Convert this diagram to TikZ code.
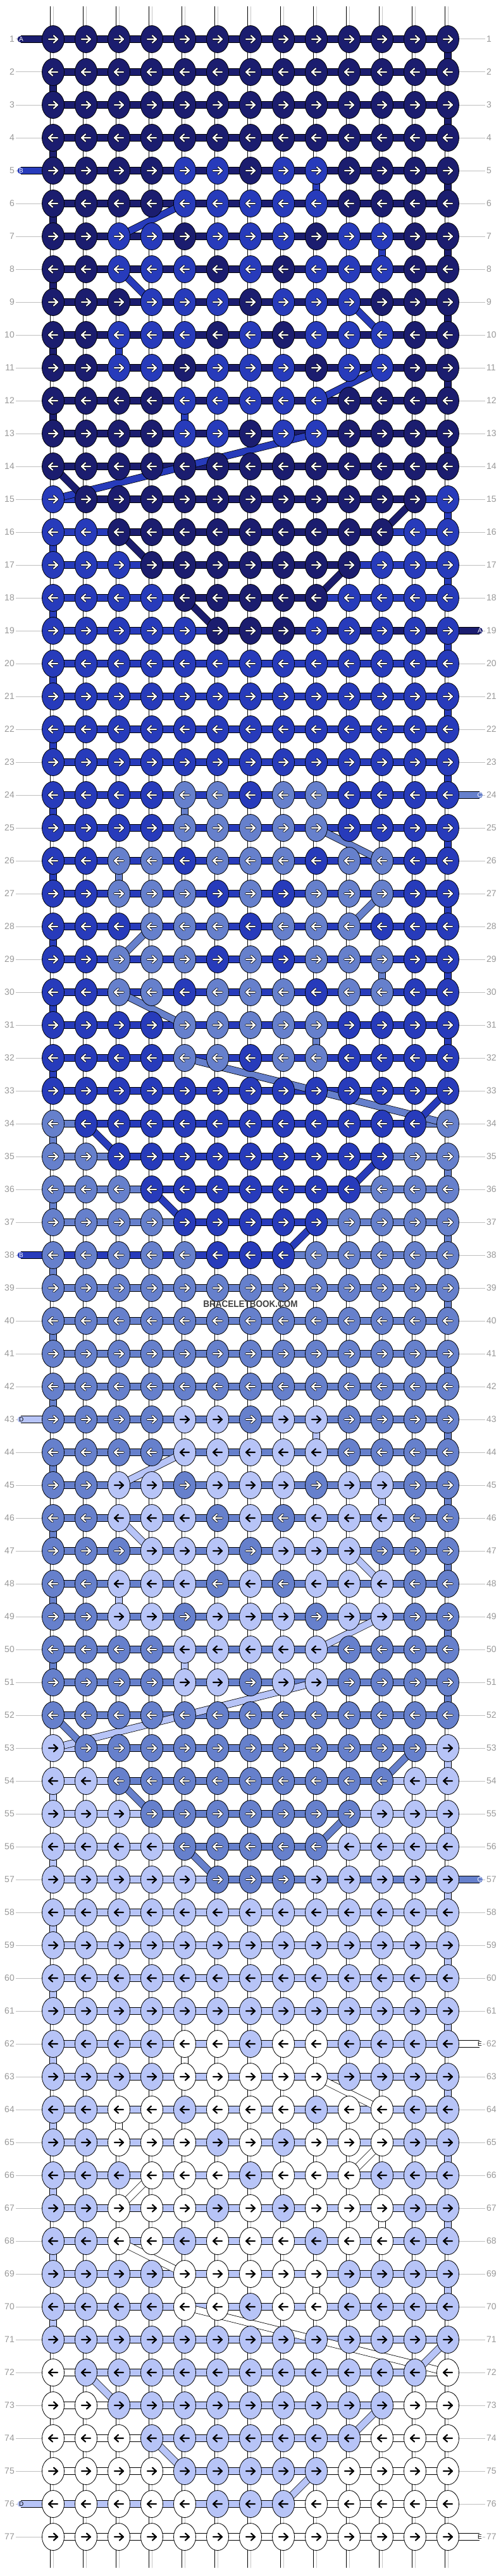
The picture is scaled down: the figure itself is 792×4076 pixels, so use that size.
\documentclass[tikz,border=0pt]{standalone}
\usepackage{fontspec}
\setmainfont{Liberation Sans}
\usepackage{graphicx}
\usetikzlibrary{shapes.geometric, backgrounds}

% thread colours
\definecolor{cN}{HTML}{1B1D6F}
\definecolor{cM}{HTML}{273BBB}
\definecolor{cL}{HTML}{6680CC}
\definecolor{cP}{HTML}{B7C4F7}
\definecolor{cW}{HTML}{FFFFFF}
% arrow colour (a) and arrow outline (o) on each thread colour
\colorlet{aN}{white}\colorlet{aM}{white}\colorlet{aL}{white}\colorlet{aP}{black}\colorlet{aW}{black}
\colorlet{oN}{black}\colorlet{oM}{black}\colorlet{oL}{black}\colorlet{oP}{cP}\colorlet{oW}{white}

\begin{document}
\begin{tikzpicture}[x=1pt, y=-1pt,
    knot/.style={ellipse, draw, line width=0.8pt, minimum width=35pt, minimum height=43pt, inner sep=0pt, fill=c#1},
    band/.style={preaction={draw=black, line width=11.5pt}, draw=#1, line width=10pt},
    conN/.style={band=cN}, conM/.style={band=cM}, conL/.style={band=cL}, conP/.style={band=cP}, conW/.style={band=white},
    strand/.style={preaction={draw=black, line width=10.5pt}, draw=white, line width=9pt, postaction={draw=black!22, line width=0.6pt}},
    rowlab/.style={text=black!40, font=\fontsize{14}{14}\selectfont, inner xsep=2pt, inner ysep=0pt},
    rowline/.style={draw=black!25, line width=1pt},
    endlab/.style={font=\fontsize{10}{10}\selectfont, inner sep=0pt}]
    \useasboundingbox (0,0) rectangle (792,4076);
    \begin{scope}[on background layer]
        \fill[white] (0,0) rectangle (792,4076);
    \end{scope}

    % Knots, row by row: knot colours / colours of the links between them
    \foreach \r/\kc/\hc in {
        1/{N,N,N,N,N,N,N,N,N,N,N,N,N}/{N,N,N,N,N,N,N,N,N,N,N,N},
        2/{N,N,N,N,N,N,N,N,N,N,N,N,N}/{N,N,N,N,N,N,N,N,N,N,N,N},
        3/{N,N,N,N,N,N,N,N,N,N,N,N,N}/{N,N,N,N,N,N,N,N,N,N,N,N},
        4/{N,N,N,N,N,N,N,N,N,N,N,N,N}/{N,N,N,N,N,N,N,N,N,N,N,N},
        5/{N,N,N,N,M,M,N,M,M,N,N,N,N}/{N,N,N,N,N,N,N,N,N,N,N,N},
        6/{N,N,N,N,M,M,M,M,M,N,N,N,N}/{N,N,N,N,N,N,N,N,N,N,N,N},
        7/{N,N,M,M,N,M,M,M,N,M,M,N,N}/{N,N,N,N,N,N,N,N,N,N,N,N},
        8/{N,N,M,M,M,N,M,N,M,M,M,N,N}/{N,N,N,N,N,N,N,N,N,N,N,N},
        9/{N,N,N,M,M,M,N,M,M,M,N,N,N}/{N,N,N,N,N,N,N,N,N,N,N,N},
        10/{N,N,M,M,M,N,M,N,M,M,M,N,N}/{N,N,N,N,N,N,N,N,N,N,N,N},
        11/{N,N,M,M,N,M,M,M,N,M,M,N,N}/{N,N,N,N,N,N,N,N,N,N,N,N},
        12/{N,N,N,N,M,M,M,M,M,N,N,N,N}/{N,N,N,N,N,N,N,N,N,N,N,N},
        13/{N,N,N,N,M,M,N,M,M,N,N,N,N}/{N,N,N,N,N,N,N,N,N,N,N,N},
        14/{N,N,N,N,N,N,N,N,N,N,N,N,N}/{N,N,N,N,N,N,N,N,N,N,N,N},
        15/{M,N,N,N,N,N,N,N,N,N,N,N,M}/{M,N,N,N,N,N,N,N,N,N,N,M},
        16/{M,M,N,N,N,N,N,N,N,N,N,M,M}/{M,M,N,N,N,N,N,N,N,N,M,M},
        17/{M,M,M,N,N,N,N,N,N,N,M,M,M}/{M,M,M,N,N,N,N,N,N,M,M,M},
        18/{M,M,M,M,N,N,N,N,N,M,M,M,M}/{M,M,M,M,N,N,N,N,M,M,M,M},
        19/{M,M,M,M,M,N,N,N,M,M,M,M,M}/{M,M,M,M,M,N,N,N,N,N,N,N},
        20/{M,M,M,M,M,M,M,M,M,M,M,M,M}/{M,M,M,M,M,M,M,M,M,M,M,M},
        21/{M,M,M,M,M,M,M,M,M,M,M,M,M}/{M,M,M,M,M,M,M,M,M,M,M,M},
        22/{M,M,M,M,M,M,M,M,M,M,M,M,M}/{M,M,M,M,M,M,M,M,M,M,M,M},
        23/{M,M,M,M,M,M,M,M,M,M,M,M,M}/{M,M,M,M,M,M,M,M,M,M,M,M},
        24/{M,M,M,M,L,L,M,L,L,M,M,M,M}/{M,M,M,M,M,M,M,M,M,M,M,M},
        25/{M,M,M,M,L,L,L,L,L,M,M,M,M}/{M,M,M,M,M,M,M,M,M,M,M,M},
        26/{M,M,L,L,M,L,L,L,M,L,L,M,M}/{M,M,M,M,M,M,M,M,M,M,M,M},
        27/{M,M,L,L,L,M,L,M,L,L,L,M,M}/{M,M,M,M,M,M,M,M,M,M,M,M},
        28/{M,M,M,L,L,L,M,L,L,L,M,M,M}/{M,M,M,M,M,M,M,M,M,M,M,M},
        29/{M,M,L,L,L,M,L,M,L,L,L,M,M}/{M,M,M,M,M,M,M,M,M,M,M,M},
        30/{M,M,L,L,M,L,L,L,M,L,L,M,M}/{M,M,M,M,M,M,M,M,M,M,M,M},
        31/{M,M,M,M,L,L,L,L,L,M,M,M,M}/{M,M,M,M,M,M,M,M,M,M,M,M},
        32/{M,M,M,M,L,L,M,L,L,M,M,M,M}/{M,M,M,M,M,M,M,M,M,M,M,M},
        33/{M,M,M,M,M,M,M,M,M,M,M,M,M}/{M,M,M,M,M,M,M,M,M,M,M,M},
        34/{L,M,M,M,M,M,M,M,M,M,M,M,L}/{L,M,M,M,M,M,M,M,M,M,M,L},
        35/{L,L,M,M,M,M,M,M,M,M,M,L,L}/{L,L,M,M,M,M,M,M,M,M,L,L},
        36/{L,L,L,M,M,M,M,M,M,M,L,L,L}/{L,L,L,M,M,M,M,M,M,L,L,L},
        37/{L,L,L,L,M,M,M,M,M,L,L,L,L}/{L,L,L,L,M,M,M,M,L,L,L,L},
        38/{L,L,L,L,L,M,M,M,L,L,L,L,L}/{M,M,M,M,M,M,M,L,L,L,L,L},
        39/{L,L,L,L,L,L,L,L,L,L,L,L,L}/{L,L,L,L,L,L,L,L,L,L,L,L},
        40/{L,L,L,L,L,L,L,L,L,L,L,L,L}/{L,L,L,L,L,L,L,L,L,L,L,L},
        41/{L,L,L,L,L,L,L,L,L,L,L,L,L}/{L,L,L,L,L,L,L,L,L,L,L,L},
        42/{L,L,L,L,L,L,L,L,L,L,L,L,L}/{L,L,L,L,L,L,L,L,L,L,L,L},
        43/{L,L,L,L,P,P,L,P,P,L,L,L,L}/{L,L,L,L,L,L,L,L,L,L,L,L},
        44/{L,L,L,L,P,P,P,P,P,L,L,L,L}/{L,L,L,L,L,L,L,L,L,L,L,L},
        45/{L,L,P,P,L,P,P,P,L,P,P,L,L}/{L,L,L,L,L,L,L,L,L,L,L,L},
        46/{L,L,P,P,P,L,P,L,P,P,P,L,L}/{L,L,L,L,L,L,L,L,L,L,L,L},
        47/{L,L,L,P,P,P,L,P,P,P,L,L,L}/{L,L,L,L,L,L,L,L,L,L,L,L},
        48/{L,L,P,P,P,L,P,L,P,P,P,L,L}/{L,L,L,L,L,L,L,L,L,L,L,L},
        49/{L,L,P,P,L,P,P,P,L,P,P,L,L}/{L,L,L,L,L,L,L,L,L,L,L,L},
        50/{L,L,L,L,P,P,P,P,P,L,L,L,L}/{L,L,L,L,L,L,L,L,L,L,L,L},
        51/{L,L,L,L,P,P,L,P,P,L,L,L,L}/{L,L,L,L,L,L,L,L,L,L,L,L},
        52/{L,L,L,L,L,L,L,L,L,L,L,L,L}/{L,L,L,L,L,L,L,L,L,L,L,L},
        53/{P,L,L,L,L,L,L,L,L,L,L,L,P}/{P,L,L,L,L,L,L,L,L,L,L,P},
        54/{P,P,L,L,L,L,L,L,L,L,L,P,P}/{P,P,L,L,L,L,L,L,L,L,P,P},
        55/{P,P,P,L,L,L,L,L,L,L,P,P,P}/{P,P,P,L,L,L,L,L,L,P,P,P},
        56/{P,P,P,P,L,L,L,L,L,P,P,P,P}/{P,P,P,P,L,L,L,L,P,P,P,P},
        57/{P,P,P,P,P,L,L,L,P,P,P,P,P}/{P,P,P,P,P,L,L,L,L,L,L,L},
        58/{P,P,P,P,P,P,P,P,P,P,P,P,P}/{P,P,P,P,P,P,P,P,P,P,P,P},
        59/{P,P,P,P,P,P,P,P,P,P,P,P,P}/{P,P,P,P,P,P,P,P,P,P,P,P},
        60/{P,P,P,P,P,P,P,P,P,P,P,P,P}/{P,P,P,P,P,P,P,P,P,P,P,P},
        61/{P,P,P,P,P,P,P,P,P,P,P,P,P}/{P,P,P,P,P,P,P,P,P,P,P,P},
        62/{P,P,P,P,W,W,P,W,W,P,P,P,P}/{P,P,P,P,P,P,P,P,P,P,P,P},
        63/{P,P,P,P,W,W,W,W,W,P,P,P,P}/{P,P,P,P,P,P,P,P,P,P,P,P},
        64/{P,P,W,W,P,W,W,W,P,W,W,P,P}/{P,P,P,P,P,P,P,P,P,P,P,P},
        65/{P,P,W,W,W,P,W,P,W,W,W,P,P}/{P,P,P,P,P,P,P,P,P,P,P,P},
        66/{P,P,P,W,W,W,P,W,W,W,P,P,P}/{P,P,P,P,P,P,P,P,P,P,P,P},
        67/{P,P,W,W,W,P,W,P,W,W,W,P,P}/{P,P,P,P,P,P,P,P,P,P,P,P},
        68/{P,P,W,W,P,W,W,W,P,W,W,P,P}/{P,P,P,P,P,P,P,P,P,P,P,P},
        69/{P,P,P,P,W,W,W,W,W,P,P,P,P}/{P,P,P,P,P,P,P,P,P,P,P,P},
        70/{P,P,P,P,W,W,P,W,W,P,P,P,P}/{P,P,P,P,P,P,P,P,P,P,P,P},
        71/{P,P,P,P,P,P,P,P,P,P,P,P,P}/{P,P,P,P,P,P,P,P,P,P,P,P},
        72/{W,P,P,P,P,P,P,P,P,P,P,P,W}/{W,P,P,P,P,P,P,P,P,P,P,W},
        73/{W,W,P,P,P,P,P,P,P,P,P,W,W}/{W,W,P,P,P,P,P,P,P,P,W,W},
        74/{W,W,W,P,P,P,P,P,P,P,W,W,W}/{W,W,W,P,P,P,P,P,P,W,W,W},
        75/{W,W,W,W,P,P,P,P,P,W,W,W,W}/{W,W,W,W,P,P,P,P,W,W,W,W},
        76/{W,W,W,W,W,P,P,P,W,W,W,W,W}/{P,P,P,P,P,P,P,W,W,W,W,W},
        77/{W,W,W,W,W,W,W,W,W,W,W,W,W}/{W,W,W,W,W,W,W,W,W,W,W,W}} {
        \ifodd\r\relax \def\dir{1}\else \def\dir{-1}\fi
        \foreach \k [count=\c] in \kc {
            \node[knot=\k] (k-\r-\c) at ({84+52*(\c-1)}, {62+52*(\r-1)}) {};
            \draw[draw=o\k, line width=3.8pt, line cap=round, line join=round, shift={(k-\r-\c.center)}, xscale=\dir]
                (-7,0) -- (7,0) (1,-5.5) -- (7,0) -- (1,5.5);
            \draw[draw=a\k, line width=2.2pt, line cap=round, line join=round, shift={(k-\r-\c.center)}, xscale=\dir]
                (-7,0) -- (7,0) (1,-5.5) -- (7,0) -- (1,5.5);
        }
        \node[rowlab, anchor=east] (ll-\r) at (25, {62+52*(\r-1)}) {\r};
        \node[rowlab, anchor=west] (rl-\r) at (767, {62+52*(\r-1)}) {\r};
        \begin{scope}[on background layer]
            \draw[rowline] (ll-\r.east) -- (k-\r-1.west);
            \draw[rowline] (k-\r-13.east) -- (rl-\r.west);
            \foreach \h [count=\c] in \hc {
                \pgfmathtruncatemacro\cc{\c+1}
                \draw[con\h] (k-\r-\c.center) -- (k-\r-\cc.center);
            }
        \end{scope}
    }

    \begin{scope}[on background layer]
        % Vertical threads
        \foreach \c in {1,...,13} {
            \coordinate (top-\c) at ({84+52*(\c-1)}, 10.5);
            \coordinate (bot-\c) at ({84+52*(\c-1)}, 4063);
            \draw[strand, line cap=round] (top-\c) -- (k-1-\c.center);
            \draw[strand, line cap=round] (k-77-\c.center) -- (bot-\c);
            \foreach \r in {1,...,76} {
                \pgfmathtruncatemacro\s{\r+1}
                \draw[strand] (k-\r-\c.center) -- (k-\s-\c.center);
            }
        }
        % Turns of the row threads at the edges
        \foreach \a/\b/\t in {1/13/N, 15/32/M, 34/51/L, 53/70/P} {
            \foreach \r in {\a,...,\b} {
                \pgfmathtruncatemacro\s{\r+1}
                \ifodd\r\relax \def\e{13}\else \def\e{1}\fi
                \draw[con\t] (k-\r-\e.center) -- (k-\s-\e.center);
            }
        }
        % Links where a vertical thread is coloured
        \foreach \r/\c/\t in {5/9/M, 7/11/M, 10/3/M, 12/5/M, 24/5/L, 26/3/L, 29/11/L, 31/9/L,
                43/9/P, 45/11/P, 48/3/P, 50/5/P, 62/5/W, 64/3/W, 67/11/W, 69/9/W} {
            \pgfmathtruncatemacro\s{\r+1}
            \draw[con\t] (k-\r-\c.center) -- (k-\s-\c.center);
        }
        % Thread ends
        \foreach \r/\t in {1/N, 5/M, 38/M, 43/P, 76/P} {
            \coordinate (end-\r) at (32.5, {62+52*(\r-1)});
            \draw[con\t, line cap=round] (end-\r) -- (k-\r-1.center);
        }
        \foreach \r/\t in {19/N, 24/L, 57/L, 62/W, 77/W} {
            \coordinate (end-\r) at (758, {62+52*(\r-1)});
            \draw[con\t, line cap=round] (k-\r-13.center) -- (end-\r);
        }
        % Diagonal passes between rows
        \foreach \ra/\ca/\rb/\cb/\t in {
                6/5/7/3/M, 8/3/9/4/M, 9/10/10/11/M, 11/11/12/9/M, 13/9/15/1/M,
                14/1/15/2/N, 15/12/16/11/N, 16/3/17/4/N, 17/10/18/9/N, 18/5/19/6/N,
                25/9/26/11/L, 27/11/28/10/L, 28/4/29/3/L, 30/3/31/5/L, 32/5/34/13/L,
                33/13/34/12/M, 34/2/35/3/M, 35/11/36/10/M, 36/4/37/5/M, 37/9/38/8/M,
                44/5/45/3/P, 46/3/47/4/P, 47/10/48/11/P, 49/11/50/9/P, 51/9/53/1/P,
                52/1/53/2/L, 53/12/54/11/L, 54/3/55/4/L, 55/10/56/9/L, 56/5/57/6/L,
                63/9/64/11/W, 65/11/66/10/W, 66/4/67/3/W, 68/3/69/5/W, 70/5/72/13/W,
                71/13/72/12/P, 72/2/73/3/P, 73/11/74/10/P, 74/4/75/5/P, 75/9/76/8/P} {
            \draw[con\t] (k-\ra-\ca.center) -- (k-\rb-\cb.center);
        }
    \end{scope}

    % Letters of the thread ends
    \foreach \r/\t/\l in {1/N/A, 5/M/B, 38/M/B, 43/P/D, 76/P/D} {
        \node[endlab, text=a\t, anchor=west] (lab-\r) at (30, {62+52*(\r-1)}) {\l};
    }
    \foreach \r/\t/\l in {19/N/A, 24/L/C, 57/L/C, 62/W/E, 77/W/E} {
        \node[endlab, text=a\t, anchor=east] (lab-\r) at (762, {62+52*(\r-1)}) {\l};
    }

    \node[font=\bfseries\fontsize{15}{15}\selectfont, text=black!75] (mark) at (396, 2063) {\scalebox{0.9}[1]{BRACELETBOOK.COM}};
\end{tikzpicture}
\end{document}
